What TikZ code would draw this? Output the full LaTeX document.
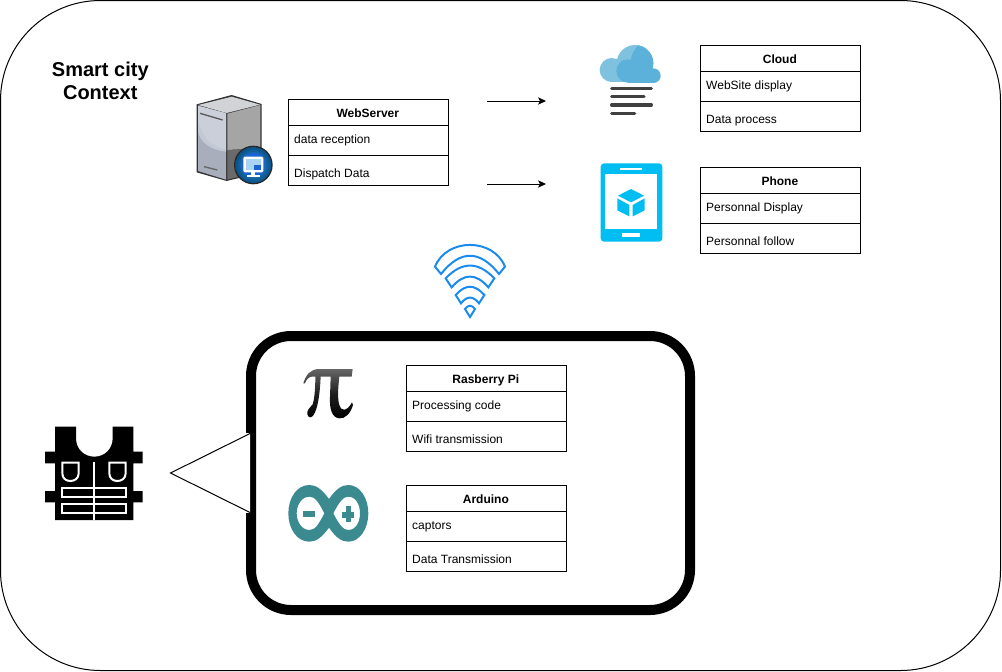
\documentclass[tikz,border=0pt]{standalone}
\usepackage{fontspec}
\setmainfont{Liberation Sans}
\usetikzlibrary{arrows.meta}
\definecolor{cloudl}{HTML}{7FC2E0}
\definecolor{cloudd}{HTML}{5BB1D9}
\definecolor{fogc}{HTML}{404040}
\definecolor{tabc}{HTML}{00BEF2}
\definecolor{wific}{HTML}{1A8CF0}
\definecolor{ardc}{HTML}{3A8A90}
\definecolor{srvtop}{HTML}{D2D3D6}
\definecolor{srvfronta}{HTML}{CBCFDA}
\definecolor{srvfrontb}{HTML}{A8AEBC}
\definecolor{srvrighta}{HTML}{A5A5A5}
\definecolor{srvrightb}{HTML}{6A6A6A}
\definecolor{badgea}{HTML}{2AA5E0}
\definecolor{badgeb}{HTML}{0B4F86}
\definecolor{badgec}{HTML}{1A63D0}
\definecolor{badged}{HTML}{A9D4F2}
\tikzset{
  boxframe/.style={draw=black,line width=.75pt,fill=white,minimum width=120pt,inner sep=0pt,outer sep=0pt,anchor=north west},
  boxtitle/.style={font=\fontsize{9}{11}\selectfont\bfseries,inner sep=0pt,anchor=base},
  boxrow/.style={font=\fontsize{9}{11}\selectfont,inner sep=0pt,anchor=base west},
  flow/.style={draw=black,line width=.75pt,-{Stealth[length=6pt,width=5.5pt,inset=1.5pt]}},
  iconscope/.style={x=.25pt,y=-.25pt},
  wifistroke/.style={draw=wific,line width=1.5pt,line join=miter},
  veststroke/.style={draw=white,line width=1.5pt},
}
% name, x, y, title, row 1, row 2 (positions in reference pixels)
\newcommand{\classbox}[6]{%
  \node[boxframe,minimum height=64.5pt] (#1) at (#2,#3) {};
  \draw[line width=.75pt] ([yshift=-19.5pt]#1.north west) -- ([yshift=-19.5pt]#1.north east);
  \draw[line width=.75pt] ([yshift=-42pt]#1.north west) -- ([yshift=-42pt]#1.north east);
  \node[boxtitle] (#1title) at ([xshift=-.5pt,yshift=-13.4pt]#1.north) {#4};
  \node[boxrow] (#1rowa) at ([xshift=4.1pt,yshift=-33pt]#1.north west) {#5};
  \node[boxrow] (#1rowb) at ([xshift=4.1pt,yshift=-58.5pt]#1.north west) {#6};
}
\begin{document}
\begin{tikzpicture}[x=.75pt,y=-.75pt]
\useasboundingbox (0,0) rectangle (1002,671);
% outer frame
\draw[line width=.75pt,rounded corners=75pt,fill=white] (.5,.5) rectangle (1000.5,670.5);
% title
\node[font=\fontsize{15}{17.25}\selectfont\bfseries,align=center,inner sep=0pt] (title) at (100.3,81) {Smart city\\Context};
% speech bubble
\draw[line width=7.5pt,rounded corners=30pt] (251,336) rectangle (690,610);
\fill[white] (246,433) rectangle (250,513);
\draw[line width=.75pt,fill=white] (250,433.5) -- (170.5,473) -- (250,512.5);
% tables
\classbox{web}{288.5}{99.5}{WebServer}{data reception}{Dispatch Data}
\classbox{cloudbox}{700.5}{45.5}{Cloud}{WebSite display}{Data process}
\classbox{phone}{700.5}{167.5}{Phone}{Personnal Display}{Personnal follow}
\classbox{rasp}{406.5}{365.5}{Rasberry Pi}{Processing code}{Wifi transmission}
\classbox{ard}{406.5}{485.5}{Arduino}{captors}{Data Transmission}
% connectors
\coordinate (a1) at (487,101); \coordinate (a2) at (546,101);
\coordinate (b1) at (487,184); \coordinate (b2) at (546,184);
\draw[flow] (a1) -- (a2);
\draw[flow] (b1) -- (b2);
% server icon
\begin{scope}[shift={(180,85)},iconscope]
  \fill[black!80] (155,30) -- (245,57) -- (245,262) -- (140,288) -- (50,262) -- (50,58) -- cycle;
  \fill[srvtop] (155,35) -- (240,59) -- (140,84) -- (55,60) -- cycle;
  \fill[srvfrontb] (54,62) -- (138,88) -- (138,284) -- (54,258) -- cycle;
  \fill[srvfronta] (54,62) -- (138,84) -- (138,195) .. controls (100,185) and (70,165) .. (60,125) -- (54,120) -- cycle;
  \fill[srvfronta!80!srvfrontb] (54,115) -- (60,125) .. controls (70,165) and (100,185) .. (138,195) -- (138,200) .. controls (90,195) and (60,170) .. (54,140) -- cycle;
  \fill[srvrighta] (142,86) -- (241,60) -- (241,190) -- (142,195) -- cycle;
  \fill[srvrightb] (142,195) -- (241,190) -- (241,259) -- (142,284) -- cycle;
  \draw[black!65,line width=1pt] (60,85) -- (128,105);
  \draw[black!60,line width=1pt] (72,245) -- (112,255);
  \fill[black!85] (220,240) circle (58);
  \shade[inner color=badgea,outer color=badgeb] (220,240) circle (54);
  \fill[badgec] (220,240) circle (38);
  \fill[white,rounded corners=1pt] (190,215) rectangle (250,262);
  \fill[badged] (197,222) rectangle (243,255);
  \fill[badgec] (222,240) rectangle (243,255);
  \fill[white] (214,262) rectangle (226,270);
  \fill[white] (200,270) rectangle (240,275);
\end{scope}
% cloud icon
\begin{scope}[shift={(590,35)},iconscope]
  \fill[cloudl] (65,105) circle (36);
  \fill[cloudl] (135,85) circle (55);
  \fill[cloudl] (60,110) rectangle (110,141);
  \begin{scope}
    \clip (135,85) circle (55);
    \fill[cloudd] (150,25) .. controls (125,50) and (118,75) .. (125,95) -- (125,150) -- (200,150) -- (200,25) -- cycle;
  \end{scope}
  \fill[cloudd] (114,108) circle (35);
  \fill[cloudd] (190,122) circle (22);
  \fill[cloudd] (114,115) rectangle (190,144);
  \draw[fogc,line width=2.5pt,line cap=round] (65,160) -- (184,160);
  \draw[fogc,line width=2.5pt,line cap=round] (65,185) -- (162,185);
  \draw[fogc,line width=2.5pt,line cap=round] (65,210) -- (184,210);
  \draw[fogc,line width=2.5pt,line cap=round] (65,235) -- (134,235);
\end{scope}
% tablet icon
\begin{scope}[shift={(590,35)},iconscope]
  \fill[tabc,rounded corners=2.5pt] (32,385) rectangle (217,620);
  \fill[white] (46,417) rectangle (202,582);
  \fill[white] (90,400) rectangle (156,406);
  \fill[white] (97,594) rectangle (150,607);
  \fill[tabc] (123,462) -- (162,482) -- (123,502) -- (84,482) -- cycle;
  \fill[tabc] (82,490) -- (118,510) -- (118,544) -- (82,526) -- cycle;
  \fill[tabc] (164,490) -- (128,510) -- (128,544) -- (164,526) -- cycle;
\end{scope}
% wifi icon
\begin{scope}[shift={(425,235)},iconscope]
  \draw[wifistroke] (30,95) .. controls (65,8) and (205,8) .. (240,95) -- (222,117) .. controls (164,44) and (106,44) .. (48,117) -- cycle;
  \draw[wifistroke] (62,130) .. controls (111,79) and (159,79) .. (208,130) -- (190,157) .. controls (153,114) and (117,114) .. (80,157) -- cycle;
  \draw[wifistroke] (92,180) .. controls (121,147) and (149,147) .. (178,180) -- (162,205) .. controls (144,182) and (126,182) .. (108,205) -- cycle;
  \draw[wifistroke] (120,222) .. controls (130,209) and (140,209) .. (150,222) -- (135,246) -- cycle;
\end{scope}
% vest icon
\begin{scope}[shift={(30,415)},iconscope]
  \fill[black] (75,35) -- (138,35) -- (138,70) .. controls (138,102) and (162,125) .. (193,125) .. controls (224,125) and (248,102) .. (248,70) -- (248,35) -- (310,35) -- (310,110) -- (338,110) -- (338,145) -- (310,145) -- (310,228) -- (338,228) -- (338,262) -- (310,262) -- (310,315) -- (75,315) -- (75,262) -- (45,262) -- (45,228) -- (75,228) -- (75,145) -- (45,145) -- (45,110) -- (75,110) -- cycle;
  \draw[veststroke,line width=1.25pt] (192,140) -- (192,315);
  \draw[veststroke] (97,143) -- (146,143) -- (146,175) .. controls (146,190) and (134,198) .. (121,198) .. controls (108,198) and (97,190) .. (97,175) -- cycle;
  \draw[veststroke] (238,143) -- (287,143) -- (287,175) .. controls (287,190) and (275,198) .. (262,198) .. controls (249,198) and (238,190) .. (238,175) -- cycle;
  \draw[veststroke] (97,220) rectangle (287,246);
  \draw[veststroke] (97,268) rectangle (287,294);
\end{scope}
% pi icon
\begin{scope}[shift={(280,355)},iconscope]
  \shade[top color=black!60,bottom color=black,middle color=black!88]
    (70,85) .. controls (78,60) and (90,42) .. (118,42) -- (218,42) -- (215,65) -- (178,65)
    .. controls (174,100) and (172,130) .. (178,150) .. controls (182,168) and (200,172) .. (216,142)
    -- (219,150) .. controls (212,175) and (195,192) .. (178,190) .. controls (155,188) and (148,160) .. (150,125)
    -- (152,65) -- (122,65) .. controls (120,110) and (115,150) .. (105,172)
    .. controls (98,190) and (86,192) .. (82,178) .. controls (80,165) and (90,158) .. (98,148)
    .. controls (104,130) and (106,95) .. (106,65) -- (95,65) .. controls (85,66) and (78,75) .. (75,85) -- cycle;
\end{scope}
% arduino icon
\begin{scope}[shift={(280,355)},iconscope]
  \fill[ardc,even odd rule]
    (147,432) .. controls (125,402) and (108,390) .. (88,390) .. controls (50,390) and (25,430) .. (25,475)
    .. controls (25,520) and (50,560) .. (88,560) .. controls (108,560) and (125,548) .. (147,518)
    .. controls (168,548) and (185,560) .. (205,560) .. controls (240,560) and (265,520) .. (265,475)
    .. controls (265,430) and (240,390) .. (205,390) .. controls (185,390) and (168,402) .. (147,432) -- cycle
    (133,475) .. controls (115,440) and (105,425) .. (88,425) .. controls (65,425) and (50,450) .. (50,475)
    .. controls (50,500) and (65,525) .. (88,525) .. controls (105,525) and (115,510) .. (133,475) -- cycle
    (160,475) .. controls (178,440) and (190,425) .. (205,425) .. controls (228,425) and (240,450) .. (240,475)
    .. controls (240,500) and (228,525) .. (205,525) .. controls (190,525) and (178,510) .. (160,475) -- cycle;
  \fill[ardc] (68,467) rectangle (105,485);
  \fill[ardc] (187,472) rectangle (223,488);
  \fill[ardc] (197,452) rectangle (213,502);
\end{scope}
\end{tikzpicture}
\end{document}
